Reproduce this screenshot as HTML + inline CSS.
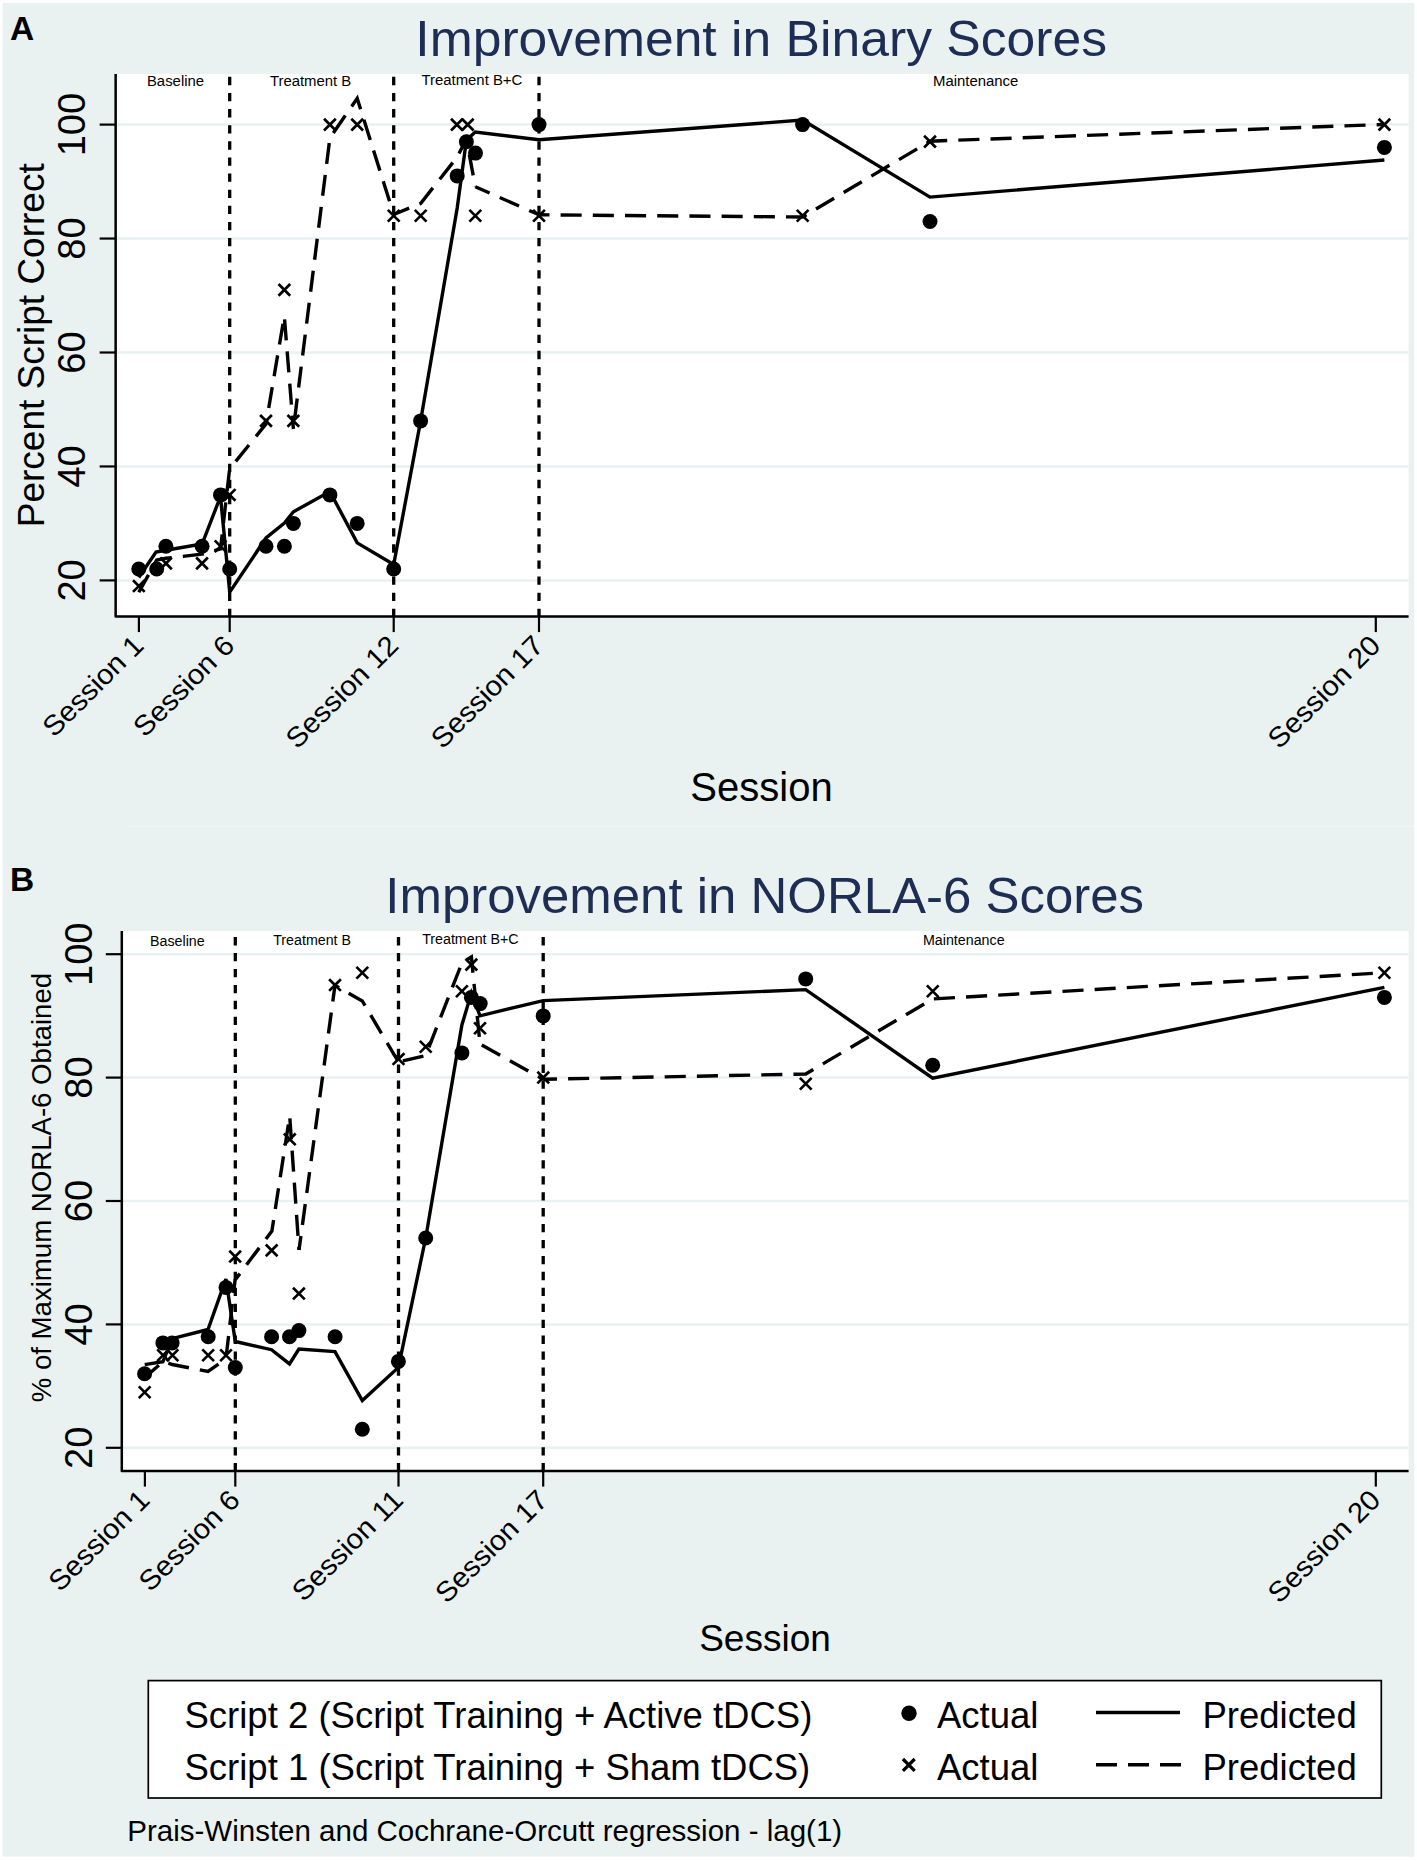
<!DOCTYPE html>
<html><head><meta charset="utf-8"><title>Figure</title>
<style>
html,body{margin:0;padding:0;background:#fff;}
body{width:1417px;height:1861px;overflow:hidden;}
svg{display:block;font-family:"Liberation Sans", sans-serif;}
svg text{font-family:"Liberation Sans", sans-serif;fill:#000;}
</style></head><body>
<svg width="1417" height="1861" viewBox="0 0 1417 1861">
<rect x="0" y="0" width="1417" height="1861" fill="#fff"/>
<rect x="2.5" y="3" width="1411.7" height="1853.6" fill="#e9f2f1"/>
<line x1="130" y1="825.9" x2="1414" y2="825.9" stroke="#edf5f4" stroke-width="1.6"/>
<rect x="115.65" y="74" width="1292.9499999999998" height="542.6" fill="#fff"/>
<line x1="115.65" y1="580.4" x2="1408.6" y2="580.4" stroke="#e8f1f1" stroke-width="2.5"/>
<line x1="115.65" y1="466.45" x2="1408.6" y2="466.45" stroke="#e8f1f1" stroke-width="2.5"/>
<line x1="115.65" y1="352.5" x2="1408.6" y2="352.5" stroke="#e8f1f1" stroke-width="2.5"/>
<line x1="115.65" y1="238.55" x2="1408.6" y2="238.55" stroke="#e8f1f1" stroke-width="2.5"/>
<line x1="115.65" y1="124.60000000000002" x2="1408.6" y2="124.60000000000002" stroke="#e8f1f1" stroke-width="2.5"/>
<line x1="229.7" y1="76.8" x2="229.7" y2="616.6" stroke="#000" stroke-width="3.3" stroke-dasharray="8.35 7.77"/>
<line x1="393.7" y1="76.8" x2="393.7" y2="616.6" stroke="#000" stroke-width="3.3" stroke-dasharray="8.35 7.77"/>
<line x1="539.0" y1="76.8" x2="539.0" y2="616.6" stroke="#000" stroke-width="3.3" stroke-dasharray="8.35 7.77"/>
<text x="175.5" y="86.3" font-size="14.9" text-anchor="middle">Baseline</text>
<text x="310.6" y="86.0" font-size="14.9" text-anchor="middle">Treatment B</text>
<text x="471.9" y="85.3" font-size="14.9" text-anchor="middle">Treatment B+C</text>
<text x="975.7" y="86.0" font-size="14.9" text-anchor="middle">Maintenance</text>
<path d="M138.8 592.3L156.7 560.0L166.0 558.3L202.1 554.2L220.5 549.0L229.6 469.0L266.0 424.0L284.3 316.0L293.4 429.0" stroke="#000" stroke-width="3.4" fill="none" stroke-linejoin="miter" stroke-dasharray="21.1 11.1" stroke-dashoffset="1.1"/>
<path d="M293.4 429.0L329.9 137.9L357.2 98.4L393.7 214.5" stroke="#000" stroke-width="3.4" fill="none" stroke-linejoin="miter" stroke-dasharray="21.1 11.1" stroke-dashoffset="22.6"/>
<path d="M393.7 214.5L420.6 203.5L457.2 157.0L466.4 139.0L475.3 186.7" stroke="#000" stroke-width="3.4" fill="none" stroke-linejoin="miter" stroke-dasharray="21.1 11.1" stroke-dashoffset="4.4"/>
<path d="M475.3 186.7L539.0 214.8" stroke="#000" stroke-width="3.4" fill="none" stroke-linejoin="miter" stroke-dasharray="21.1 11.1" stroke-dashoffset="5.5"/>
<path d="M539.0 214.8L802.6 217.0L930.0 141.2L1384.4 124.4" stroke="#000" stroke-width="3.4" fill="none" stroke-linejoin="miter" stroke-dasharray="21.1 11.1" stroke-dashoffset="10.6"/>
<path d="M138.8 577.5L156.0 552.0L166.0 550.3L202.1 544.0L220.5 496.5L229.7 592.2L266.0 538.0L284.4 523.0L293.4 511.8L329.9 491.5L357.2 542.9L393.7 564.5L420.6 421.0L457.2 208.0L466.4 140.0L475.3 132.1L539.0 139.7L802.6 120.1L930.0 197.1L1384.4 160.0" stroke="#000" stroke-width="3.4" fill="none" stroke-linejoin="miter"/>
<path d="M133.0 580.2L144.7 591.9M133.0 591.9L144.7 580.2" stroke="#000" stroke-width="2.7" fill="none"/>
<path d="M160.2 557.5L171.8 569.2M160.2 569.2L171.8 557.5" stroke="#000" stroke-width="2.7" fill="none"/>
<path d="M196.2 557.5L207.9 569.2M196.2 569.2L207.9 557.5" stroke="#000" stroke-width="2.7" fill="none"/>
<path d="M214.7 540.4L226.3 552.1M214.7 552.1L226.3 540.4" stroke="#000" stroke-width="2.7" fill="none"/>
<path d="M223.8 489.1L235.5 500.8M223.8 500.8L235.5 489.1" stroke="#000" stroke-width="2.7" fill="none"/>
<path d="M260.1 415.0L271.9 426.7M260.1 426.7L271.9 415.0" stroke="#000" stroke-width="2.7" fill="none"/>
<path d="M278.5 284.0L290.2 295.7M278.5 295.7L290.2 284.0" stroke="#000" stroke-width="2.7" fill="none"/>
<path d="M287.5 415.0L299.2 426.7M287.5 426.7L299.2 415.0" stroke="#000" stroke-width="2.7" fill="none"/>
<path d="M324.0 118.8L335.8 130.5M324.0 130.5L335.8 118.8" stroke="#000" stroke-width="2.7" fill="none"/>
<path d="M351.3 118.8L363.1 130.5M351.3 130.5L363.1 118.8" stroke="#000" stroke-width="2.7" fill="none"/>
<path d="M387.8 209.9L399.6 221.6M387.8 221.6L399.6 209.9" stroke="#000" stroke-width="2.7" fill="none"/>
<path d="M414.8 209.9L426.5 221.6M414.8 221.6L426.5 209.9" stroke="#000" stroke-width="2.7" fill="none"/>
<path d="M451.0 118.8L462.8 130.5M451.0 130.5L462.8 118.8" stroke="#000" stroke-width="2.7" fill="none"/>
<path d="M461.8 118.8L473.6 130.5M461.8 130.5L473.6 118.8" stroke="#000" stroke-width="2.7" fill="none"/>
<path d="M469.4 209.9L481.2 221.6M469.4 221.6L481.2 209.9" stroke="#000" stroke-width="2.7" fill="none"/>
<path d="M533.1 209.9L544.9 221.6M533.1 221.6L544.9 209.9" stroke="#000" stroke-width="2.7" fill="none"/>
<path d="M796.8 209.9L808.5 221.6M796.8 221.6L808.5 209.9" stroke="#000" stroke-width="2.7" fill="none"/>
<path d="M924.1 135.8L935.9 147.5M924.1 147.5L935.9 135.8" stroke="#000" stroke-width="2.7" fill="none"/>
<path d="M1378.6 118.8L1390.2 130.5M1378.6 130.5L1390.2 118.8" stroke="#000" stroke-width="2.7" fill="none"/>
<circle cx="138.8" cy="569.0" r="7.5" fill="#000"/>
<circle cx="156.7" cy="569.0" r="7.5" fill="#000"/>
<circle cx="165.9" cy="546.2" r="7.5" fill="#000"/>
<circle cx="202.1" cy="546.2" r="7.5" fill="#000"/>
<circle cx="220.5" cy="494.9" r="7.5" fill="#000"/>
<circle cx="229.7" cy="569.0" r="7.5" fill="#000"/>
<circle cx="266.0" cy="546.2" r="7.5" fill="#000"/>
<circle cx="284.4" cy="546.2" r="7.5" fill="#000"/>
<circle cx="293.4" cy="523.4" r="7.5" fill="#000"/>
<circle cx="329.9" cy="494.9" r="7.5" fill="#000"/>
<circle cx="357.2" cy="523.4" r="7.5" fill="#000"/>
<circle cx="393.7" cy="569.0" r="7.5" fill="#000"/>
<circle cx="420.6" cy="420.9" r="7.5" fill="#000"/>
<circle cx="457.2" cy="175.9" r="7.5" fill="#000"/>
<circle cx="466.4" cy="141.7" r="7.5" fill="#000"/>
<circle cx="475.5" cy="153.1" r="7.5" fill="#000"/>
<circle cx="539.0" cy="124.6" r="7.5" fill="#000"/>
<circle cx="802.6" cy="124.6" r="7.5" fill="#000"/>
<circle cx="930.0" cy="221.5" r="7.5" fill="#000"/>
<circle cx="1384.4" cy="147.4" r="7.5" fill="#000"/>
<path d="M115.65 74L115.65 616.6L1408.6 616.6" stroke="#000" stroke-width="2.5" fill="none" stroke-linejoin="round"/>
<line x1="99.65" y1="580.4" x2="115.65" y2="580.4" stroke="#000" stroke-width="2.2"/>
<text transform="translate(84.6,580.4) rotate(-90)" font-size="38" text-anchor="middle">20</text>
<line x1="99.65" y1="466.45" x2="115.65" y2="466.45" stroke="#000" stroke-width="2.2"/>
<text transform="translate(84.6,466.45) rotate(-90)" font-size="38" text-anchor="middle">40</text>
<line x1="99.65" y1="352.5" x2="115.65" y2="352.5" stroke="#000" stroke-width="2.2"/>
<text transform="translate(84.6,352.5) rotate(-90)" font-size="38" text-anchor="middle">60</text>
<line x1="99.65" y1="238.55" x2="115.65" y2="238.55" stroke="#000" stroke-width="2.2"/>
<text transform="translate(84.6,238.55) rotate(-90)" font-size="38" text-anchor="middle">80</text>
<line x1="99.65" y1="124.60000000000002" x2="115.65" y2="124.60000000000002" stroke="#000" stroke-width="2.2"/>
<text transform="translate(84.6,124.60000000000002) rotate(-90)" font-size="38" text-anchor="middle">100</text>
<line x1="138.9" y1="616.6" x2="138.9" y2="632.1" stroke="#000" stroke-width="2.2"/>
<text transform="translate(145.2,647.1) rotate(-45) scale(1.05,1)" font-size="28" text-anchor="end">Session 1</text>
<line x1="229.7" y1="616.6" x2="229.7" y2="632.1" stroke="#000" stroke-width="2.2"/>
<text transform="translate(236.0,647.1) rotate(-45) scale(1.05,1)" font-size="28" text-anchor="end">Session 6</text>
<line x1="393.7" y1="616.6" x2="393.7" y2="632.1" stroke="#000" stroke-width="2.2"/>
<text transform="translate(400.0,647.1) rotate(-45) scale(1.05,1)" font-size="28" text-anchor="end">Session 12</text>
<line x1="539.0" y1="616.6" x2="539.0" y2="632.1" stroke="#000" stroke-width="2.2"/>
<text transform="translate(545.3,647.1) rotate(-45) scale(1.05,1)" font-size="28" text-anchor="end">Session 17</text>
<line x1="1375.8" y1="616.6" x2="1375.8" y2="632.1" stroke="#000" stroke-width="2.2"/>
<text transform="translate(1382.1,647.1) rotate(-45) scale(1.05,1)" font-size="28" text-anchor="end">Session 20</text>
<text transform="translate(44.2,345.3) rotate(-90)" font-size="37" text-anchor="middle">Percent Script Correct</text>
<text x="761.5" y="801.4" font-size="40" text-anchor="middle">Session</text>
<text transform="translate(761.2,56.2) scale(1.033,1)" font-size="50" text-anchor="middle" style="fill:#1e2d53">Improvement in Binary Scores</text>
<text x="10.0" y="39.9" font-size="33.5" font-weight="bold">A</text>
<rect x="121.8" y="931" width="1286.8" height="540.0999999999999" fill="#fff"/>
<line x1="121.8" y1="1447.8" x2="1408.6" y2="1447.8" stroke="#e8f1f1" stroke-width="2.5"/>
<line x1="121.8" y1="1324.3999999999999" x2="1408.6" y2="1324.3999999999999" stroke="#e8f1f1" stroke-width="2.5"/>
<line x1="121.8" y1="1201.0" x2="1408.6" y2="1201.0" stroke="#e8f1f1" stroke-width="2.5"/>
<line x1="121.8" y1="1077.6" x2="1408.6" y2="1077.6" stroke="#e8f1f1" stroke-width="2.5"/>
<line x1="121.8" y1="954.1999999999999" x2="1408.6" y2="954.1999999999999" stroke="#e8f1f1" stroke-width="2.5"/>
<line x1="235.3" y1="937.1" x2="235.3" y2="1471.1" stroke="#000" stroke-width="3.3" stroke-dasharray="8.3 7.64"/>
<line x1="398.5" y1="937.1" x2="398.5" y2="1471.1" stroke="#000" stroke-width="3.3" stroke-dasharray="8.3 7.64"/>
<line x1="543.2" y1="937.1" x2="543.2" y2="1471.1" stroke="#000" stroke-width="3.3" stroke-dasharray="8.3 7.64"/>
<text x="177.4" y="946" font-size="14.25" text-anchor="middle">Baseline</text>
<text x="312.1" y="945.3" font-size="14.25" text-anchor="middle">Treatment B</text>
<text x="470.4" y="944.2" font-size="14.25" text-anchor="middle">Treatment B+C</text>
<text x="963.8" y="945.0" font-size="14.25" text-anchor="middle">Maintenance</text>
<path d="M144.7 1377.5L163.1 1361.5L172.2 1364.5L208.0 1371.5L225.9 1359.0L235.1 1280.0L271.9 1231.0L289.7 1116.0L299.0 1250.0" stroke="#000" stroke-width="3.4" fill="none" stroke-linejoin="miter" stroke-dasharray="21.1 11.1" stroke-dashoffset="2.3"/>
<path d="M299.0 1250.0L335.0 985.3L362.3 1001.0L398.5 1062.0" stroke="#000" stroke-width="3.4" fill="none" stroke-linejoin="miter" stroke-dasharray="21.1 11.1" stroke-dashoffset="6.9"/>
<path d="M398.5 1062.0L425.7 1055.5L461.9 963.0L471.4 957.0L480.0 1044.0" stroke="#000" stroke-width="3.4" fill="none" stroke-linejoin="miter" stroke-dasharray="21.1 11.1" stroke-dashoffset="27.7"/>
<path d="M480.0 1044.0L543.2 1079.3" stroke="#000" stroke-width="3.4" fill="none" stroke-linejoin="miter" stroke-dasharray="21.1 11.1" stroke-dashoffset="30.2"/>
<path d="M543.2 1079.3L805.7 1074.0L932.7 998.9L1384.4 972.7" stroke="#000" stroke-width="3.4" fill="none" stroke-linejoin="miter" stroke-dasharray="21.1 11.1" stroke-dashoffset="7.3"/>
<path d="M144.7 1364.6L162.9 1361.8L172.1 1338.7L208.0 1329.5L225.9 1279.0L235.3 1341.5L271.5 1349.7L289.5 1363.9L298.9 1349.0L335.0 1351.6L362.3 1400.6L398.4 1367.4L425.7 1238.0L461.9 1025.0L471.4 993.0L480.0 1015.8L543.2 1000.6L805.7 989.6L932.7 1078.1L1384.4 987.3" stroke="#000" stroke-width="3.4" fill="none" stroke-linejoin="miter"/>
<path d="M138.8 1386.4L150.5 1398.1M138.8 1398.1L150.5 1386.4" stroke="#000" stroke-width="2.7" fill="none"/>
<path d="M157.2 1349.4L168.9 1361.1M157.2 1361.1L168.9 1349.4" stroke="#000" stroke-width="2.7" fill="none"/>
<path d="M166.7 1349.4L178.3 1361.1M166.7 1361.1L178.3 1349.4" stroke="#000" stroke-width="2.7" fill="none"/>
<path d="M202.3 1349.4L214.0 1361.1M202.3 1361.1L214.0 1349.4" stroke="#000" stroke-width="2.7" fill="none"/>
<path d="M220.2 1349.4L231.8 1361.1M220.2 1361.1L231.8 1349.4" stroke="#000" stroke-width="2.7" fill="none"/>
<path d="M229.3 1250.7L241.0 1262.4M229.3 1262.4L241.0 1250.7" stroke="#000" stroke-width="2.7" fill="none"/>
<path d="M265.8 1244.5L277.5 1256.2M265.8 1256.2L277.5 1244.5" stroke="#000" stroke-width="2.7" fill="none"/>
<path d="M283.9 1133.5L295.7 1145.1M283.9 1145.1L295.7 1133.5" stroke="#000" stroke-width="2.7" fill="none"/>
<path d="M293.0 1287.7L304.8 1299.4M293.0 1299.4L304.8 1287.7" stroke="#000" stroke-width="2.7" fill="none"/>
<path d="M329.1 979.2L340.9 990.9M329.1 990.9L340.9 979.2" stroke="#000" stroke-width="2.7" fill="none"/>
<path d="M356.4 966.9L368.2 978.6M356.4 978.6L368.2 966.9" stroke="#000" stroke-width="2.7" fill="none"/>
<path d="M392.6 1053.2L404.4 1064.9M392.6 1064.9L404.4 1053.2" stroke="#000" stroke-width="2.7" fill="none"/>
<path d="M419.8 1040.9L431.6 1052.6M419.8 1052.6L431.6 1040.9" stroke="#000" stroke-width="2.7" fill="none"/>
<path d="M456.0 985.4L467.8 997.1M456.0 997.1L467.8 985.4" stroke="#000" stroke-width="2.7" fill="none"/>
<path d="M465.5 958.8L477.2 970.5M465.5 970.5L477.2 958.8" stroke="#000" stroke-width="2.7" fill="none"/>
<path d="M474.1 1022.4L485.9 1034.1M474.1 1034.1L485.9 1022.4" stroke="#000" stroke-width="2.7" fill="none"/>
<path d="M537.4 1071.8L549.1 1083.4M537.4 1083.4L549.1 1071.8" stroke="#000" stroke-width="2.7" fill="none"/>
<path d="M799.9 1077.9L811.6 1089.6M799.9 1089.6L811.6 1077.9" stroke="#000" stroke-width="2.7" fill="none"/>
<path d="M926.9 985.4L938.6 997.1M926.9 997.1L938.6 985.4" stroke="#000" stroke-width="2.7" fill="none"/>
<path d="M1378.6 966.9L1390.2 978.6M1378.6 978.6L1390.2 966.9" stroke="#000" stroke-width="2.7" fill="none"/>
<circle cx="144.6" cy="1373.8" r="7.5" fill="#000"/>
<circle cx="162.9" cy="1342.9" r="7.5" fill="#000"/>
<circle cx="172.1" cy="1342.9" r="7.5" fill="#000"/>
<circle cx="208.2" cy="1336.7" r="7.5" fill="#000"/>
<circle cx="226.0" cy="1287.4" r="7.5" fill="#000"/>
<circle cx="235.3" cy="1367.6" r="7.5" fill="#000"/>
<circle cx="271.6" cy="1336.7" r="7.5" fill="#000"/>
<circle cx="289.5" cy="1336.7" r="7.5" fill="#000"/>
<circle cx="298.9" cy="1330.6" r="7.5" fill="#000"/>
<circle cx="335.1" cy="1336.7" r="7.5" fill="#000"/>
<circle cx="362.3" cy="1429.3" r="7.5" fill="#000"/>
<circle cx="398.4" cy="1361.4" r="7.5" fill="#000"/>
<circle cx="425.7" cy="1238.0" r="7.5" fill="#000"/>
<circle cx="461.9" cy="1052.9" r="7.5" fill="#000"/>
<circle cx="471.4" cy="997.4" r="7.5" fill="#000"/>
<circle cx="480.2" cy="1003.6" r="7.5" fill="#000"/>
<circle cx="543.2" cy="1015.9" r="7.5" fill="#000"/>
<circle cx="805.7" cy="978.9" r="7.5" fill="#000"/>
<circle cx="932.7" cy="1065.3" r="7.5" fill="#000"/>
<circle cx="1384.4" cy="997.4" r="7.5" fill="#000"/>
<path d="M121.8 931L121.8 1471.1L1408.6 1471.1" stroke="#000" stroke-width="2.5" fill="none" stroke-linejoin="round"/>
<line x1="105.8" y1="1447.8" x2="121.8" y2="1447.8" stroke="#000" stroke-width="2.2"/>
<text transform="translate(92.3,1447.8) rotate(-90)" font-size="38" text-anchor="middle">20</text>
<line x1="105.8" y1="1324.3999999999999" x2="121.8" y2="1324.3999999999999" stroke="#000" stroke-width="2.2"/>
<text transform="translate(92.3,1324.3999999999999) rotate(-90)" font-size="38" text-anchor="middle">40</text>
<line x1="105.8" y1="1201.0" x2="121.8" y2="1201.0" stroke="#000" stroke-width="2.2"/>
<text transform="translate(92.3,1201.0) rotate(-90)" font-size="38" text-anchor="middle">60</text>
<line x1="105.8" y1="1077.6" x2="121.8" y2="1077.6" stroke="#000" stroke-width="2.2"/>
<text transform="translate(92.3,1077.6) rotate(-90)" font-size="38" text-anchor="middle">80</text>
<line x1="105.8" y1="954.1999999999999" x2="121.8" y2="954.1999999999999" stroke="#000" stroke-width="2.2"/>
<text transform="translate(92.3,954.1999999999999) rotate(-90)" font-size="38" text-anchor="middle">100</text>
<line x1="144.9" y1="1471.1" x2="144.9" y2="1486.6" stroke="#000" stroke-width="2.2"/>
<text transform="translate(151.2,1501.6) rotate(-45) scale(1.05,1)" font-size="28" text-anchor="end">Session 1</text>
<line x1="235.3" y1="1471.1" x2="235.3" y2="1486.6" stroke="#000" stroke-width="2.2"/>
<text transform="translate(241.6,1501.6) rotate(-45) scale(1.05,1)" font-size="28" text-anchor="end">Session 6</text>
<line x1="398.5" y1="1471.1" x2="398.5" y2="1486.6" stroke="#000" stroke-width="2.2"/>
<text transform="translate(404.8,1501.6) rotate(-45) scale(1.05,1)" font-size="28" text-anchor="end">Session 11</text>
<line x1="543.2" y1="1471.1" x2="543.2" y2="1486.6" stroke="#000" stroke-width="2.2"/>
<text transform="translate(549.5,1501.6) rotate(-45) scale(1.05,1)" font-size="28" text-anchor="end">Session 17</text>
<line x1="1375.8" y1="1471.1" x2="1375.8" y2="1486.6" stroke="#000" stroke-width="2.2"/>
<text transform="translate(1382.1,1501.6) rotate(-45) scale(1.05,1)" font-size="28" text-anchor="end">Session 20</text>
<text transform="translate(51.4,1187.6) rotate(-90)" font-size="27.6" text-anchor="middle">% of Maximum NORLA-6 Obtained</text>
<text x="765" y="1650.6" font-size="37" text-anchor="middle">Session</text>
<text transform="translate(764.7,913) scale(1.019,1)" font-size="50" text-anchor="middle" style="fill:#1e2d53">Improvement in NORLA-6 Scores</text>
<text x="10.0" y="890.6" font-size="33.5" font-weight="bold">B</text>
<rect x="148.3" y="1680.6" width="1233" height="117.4" fill="#fff" stroke="#000" stroke-width="1.7"/>
<text x="184.5" y="1728" font-size="36.5">Script 2 (Script Training + Active tDCS)</text>
<text x="184.5" y="1779.5" font-size="36.5">Script 1 (Script Training + Sham tDCS)</text>
<circle cx="909.0" cy="1713.2" r="7.7" fill="#000"/>
<path d="M902.9 1759.0L914.7 1770.8M902.9 1770.8L914.7 1759.0" stroke="#000" stroke-width="3.2" fill="none"/>
<text x="937" y="1728" font-size="36.5">Actual</text>
<text x="937" y="1779.5" font-size="36.5">Actual</text>
<line x1="1096" y1="1712.6" x2="1180" y2="1712.6" stroke="#000" stroke-width="3.5"/>
<line x1="1096" y1="1764.7" x2="1181" y2="1764.7" stroke="#000" stroke-width="3.5" stroke-dasharray="21 11"/>
<text x="1202.5" y="1728" font-size="36.5">Predicted</text>
<text x="1202.5" y="1779.5" font-size="36.5">Predicted</text>
<text x="127.3" y="1841.3" font-size="29.5">Prais-Winsten and Cochrane-Orcutt regression - lag(1)</text>
</svg>
</body></html>
